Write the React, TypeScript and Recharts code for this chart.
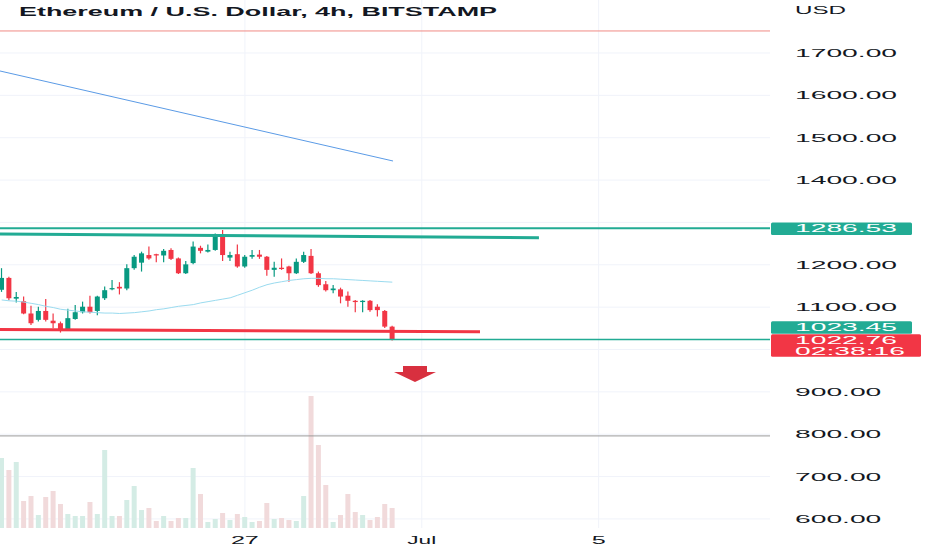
import {
  ComposedChart,
  Bar,
  Line,
  XAxis,
  YAxis,
  CartesianGrid,
  ReferenceLine,
  ReferenceDot,
  Cell,
} from 'recharts';

// 4h candles, oldest first
const opens = [
  1141, 1169, 1120, 1114, 1085, 1070, 1091, 1068, 1062, 1046, 1072, 1088, 1101, 1091, 1121, 1142, 1148, 1144,
  1192, 1205, 1223, 1225, 1222, 1235, 1215, 1180, 1204, 1240, 1231, 1235, 1270, 1217, 1225, 1196, 1219, 1224,
  1219, 1188, 1193, 1196, 1180, 1207, 1221, 1180, 1154, 1140, 1142, 1127, 1115, 1112, 1115, 1101, 1091, 1054,
];
const highs = [
  1192, 1172, 1136, 1125, 1103, 1101, 1119, 1085, 1066, 1096, 1105, 1113, 1127, 1127, 1149, 1164, 1159, 1201,
  1223, 1231, 1243, 1226, 1237, 1239, 1217, 1209, 1255, 1245, 1248, 1274, 1282, 1231, 1248, 1223, 1235, 1235,
  1221, 1207, 1215, 1198, 1215, 1231, 1237, 1184, 1162, 1152, 1146, 1137, 1117, 1116, 1117, 1107, 1093, 1056,
];
const lows = [
  1136, 1116, 1111, 1083, 1058, 1066, 1066, 1050, 1040, 1044, 1070, 1085, 1085, 1081, 1117, 1140, 1130, 1140,
  1188, 1184, 1212, 1206, 1206, 1211, 1178, 1178, 1201, 1227, 1229, 1233, 1209, 1209, 1193, 1193, 1214, 1214,
  1174, 1172, 1188, 1160, 1178, 1204, 1178, 1148, 1137, 1133, 1109, 1101, 1088, 1088, 1089, 1078, 1051, 1021,
];
const closes = [
  1169, 1121, 1124, 1085, 1062, 1091, 1070, 1062, 1046, 1074, 1088, 1101, 1088, 1125, 1140, 1145, 1144, 1192,
  1219, 1227, 1215, 1222, 1233, 1214, 1180, 1201, 1243, 1233, 1235, 1270, 1223, 1223, 1196, 1219, 1223, 1219,
  1188, 1193, 1190, 1180, 1207, 1223, 1180, 1152, 1140, 1144, 1125, 1115, 1112, 1115, 1093, 1093, 1054, 1022.76,
];
// volume, thousands ETH
const volumes = [
  7.0, 5.8, 6.6, 2.7, 3.2, 1.3, 3.1, 3.7, 2.4, 1.4, 1.2, 1.2, 2.6, 1.4, 7.8, 1.2, 1.2, 2.8,
  4.2, 1.8, 2.0, 0.7, 1.2, 0.7, 1.0, 1.0, 6.0, 3.4, 0.6, 0.9, 1.5, 0.8, 1.4, 1.1, 0.6, 0.7,
  2.5, 0.9, 1.0, 0.8, 0.7, 3.2, 13.2, 8.3, 4.3, 0.6, 1.3, 3.4, 1.6, 1.3, 0.8, 1.1, 2.4, 2.0,
];
const maValues = [
  1117, 1115, 1114, 1112, 1109, 1106, 1102, 1099, 1095, 1093, 1091, 1089, 1088, 1087, 1086, 1086, 1085, 1086,
  1087, 1089, 1091, 1094, 1096, 1099, 1102, 1104, 1106, 1110, 1113, 1116, 1119, 1122, 1128, 1134, 1140, 1147,
  1153, 1157, 1160, 1163, 1165, 1167, 1168, 1168, 1167, 1167, 1166, 1165, 1164, 1163, 1162, 1161, 1160, 1159,
];

const timeTicks = [33, 57, 81];
const timeLabels = ['27', 'Jul', '5'];
const priceTicks = [600, 700, 800, 900, 1100, 1200, 1400, 1500, 1600, 1700];
const gridPrices = [600, 700, 800, 900, 1000, 1100, 1200, 1300, 1400, 1500, 1600, 1700];

// drawings
const topLevel = 1752;
const greyLevel = 796;
const resistanceLevel = 1286.53;
const supportLevel = 1023.45;
const lastPrice = 1022.76;
const countdown = '02:38:16';
const blueTrend = [{ x: -0.23, y: 1657.5 }, { x: 53.1, y: 1445 }];
const tealTrend = [{ x: -0.23, y: 1272.7 }, { x: 72.9, y: 1263.9 }];
const redTrend = [{ x: -0.23, y: 1047 }, { x: 64.9, y: 1042 }];
const arrowPoint = { x: 56.08, y: 942 };

const UP = '#089981';
const DOWN = '#f23645';
const TEAL = '#22ab94';
const TEXT = '#131722';
const FONT = '"Liberation Sans", Arial, sans-serif';

const rows = opens.map((open, i) => ({
  i,
  open,
  high: highs[i],
  low: lows[i],
  close: closes[i],
  volume: volumes[i],
  ma: maValues[i],
}));

// the screenshot is stretched sideways, so glyph runs get an explicit length
const charW: Record<string, number> = { '.': 7.85, ':': 7.85, J: 11, u: 13, l: 5, U: 17, S: 17, D: 17 };
function textWidth(s: string, digit = 15.7) {
  return s.split('').reduce((w, c) => w + (charW[c] ?? digit), 0);
}

function CandleShape(props: any) {
  const { x, y, width, height, payload } = props;
  const { open, close, high, low } = payload;
  const color = close >= open ? UP : DOWN;
  const k = height / (high - low);
  const yo = y + (high - open) * k;
  const yc = y + (high - close) * k;
  const cx = x + width / 2;
  return (
    <g>
      <line x1={cx} x2={cx} y1={y} y2={y + height} stroke={color} strokeWidth={1.2} />
      <rect x={x} y={Math.min(yo, yc)} width={width} height={Math.max(1, Math.abs(yo - yc))} fill={color} />
    </g>
  );
}

function PriceTick({ x, y, payload }: any) {
  const s = Number(payload.value).toFixed(2);
  return (
    <text x={x + 17} y={y + 4} fontSize={11} fill={TEXT} fontFamily={FONT} textLength={textWidth(s)} lengthAdjust="spacingAndGlyphs">
      {s}
    </text>
  );
}

function TimeTick({ x, y, payload }: any) {
  const s = timeLabels[timeTicks.indexOf(payload.value)] ?? '';
  return (
    <text x={x} y={y + 8} fontSize={10.5} fill={TEXT} fontFamily={FONT} textAnchor="middle" textLength={textWidth(s, 14)} lengthAdjust="spacingAndGlyphs">
      {s}
    </text>
  );
}

function tag(lines: string[], fill: string, dy: number, w: number) {
  return (props: any) => {
    const vb = props.viewBox;
    const h = lines.length === 1 ? 12.5 : 22.4;
    const left = vb.x + vb.width + 1;
    const top = vb.y + dy - h / 2;
    return (
      <g>
        <rect x={left} y={top} width={w} height={h} rx={1.5} fill={fill} />
        {lines.map((s, k) => (
          <text
            key={k}
            x={left + 24}
            y={top + 10 + k * 10.3}
            fontSize={10.5}
            fill="#fff"
            fontFamily={FONT}
            textLength={textWidth(s)}
            lengthAdjust="spacingAndGlyphs"
          >
            {s}
          </text>
        ))}
      </g>
    );
  };
}

function ArrowDown({ cx, cy }: any) {
  const d = `M${cx - 12},${cy - 8} L${cx + 12},${cy - 8} L${cx + 12},${cy - 2} L${cx + 21},${cy - 2} L${cx},${cy + 8} L${cx - 21},${cy - 2} L${cx - 12},${cy - 2} Z`;
  return <path d={d} fill="#d8303f" />;
}

export default function App() {
  return (
    <div style={{ position: 'absolute', left: 0, top: 0, width: 932, height: 550, background: '#fff' }}>
      <ComposedChart width={932} height={550} data={rows} margin={{ top: 0, right: 0, bottom: 0, left: 0 }}>
        <CartesianGrid stroke="#f0f3fa" horizontalValues={gridPrices} verticalValues={timeTicks} />
        <XAxis
          dataKey="i"
          type="number"
          domain={[-0.23, 104.25]}
          ticks={timeTicks}
          height={22}
          axisLine={false}
          tickLine={false}
          tick={<TimeTick />}
          allowDataOverflow
        />
        <XAxis xAxisId="vol" dataKey="i" type="number" domain={[-0.23, 104.25]} hide allowDataOverflow />
        <YAxis
          orientation="right"
          width={162}
          domain={[578.6, 1825.1]}
          ticks={priceTicks}
          axisLine={false}
          tickLine={false}
          tick={<PriceTick />}
          allowDataOverflow
        />
        <YAxis yAxisId="vol" hide domain={[0, 52.8]} allowDataOverflow />

        <Bar xAxisId="vol" yAxisId="vol" dataKey="volume" barSize={5} isAnimationActive={false}>
          {rows.map((r) => (
            <Cell key={r.i} fill={r.close >= r.open ? '#d4ece5' : '#f1dadb'} />
          ))}
        </Bar>

        <ReferenceLine y={greyLevel} stroke="#9a9a9a" strokeWidth={1} />
        <ReferenceLine y={topLevel} stroke="#f08a84" strokeWidth={1} />
        <ReferenceLine segment={blueTrend} stroke="#5b9be6" strokeWidth={1} ifOverflow="visible" />

        <Line dataKey="ma" stroke="#9adbef" strokeWidth={1} dot={false} activeDot={false} isAnimationActive={false} />
        <Bar dataKey={(d: any) => [d.low, d.high]} barSize={5} shape={CandleShape} isAnimationActive={false} />

        <ReferenceLine segment={tealTrend} stroke={TEAL} strokeWidth={3} ifOverflow="visible" />
        <ReferenceLine segment={redTrend} stroke={DOWN} strokeWidth={3} ifOverflow="visible" />
        <ReferenceLine
          y={resistanceLevel}
          stroke={TEAL}
          strokeWidth={2}
          label={tag([resistanceLevel.toFixed(2)], TEAL, 0.5, 141)}
        />
        <ReferenceLine
          y={supportLevel}
          stroke={TEAL}
          strokeWidth={1.5}
          label={tag([supportLevel.toFixed(2)], TEAL, -12, 141)}
        />
        <ReferenceLine
          y={lastPrice}
          stroke="none"
          label={tag([lastPrice.toFixed(2), countdown], DOWN, 5.6, 150)}
        />
        <ReferenceDot x={arrowPoint.x} y={arrowPoint.y} ifOverflow="visible" shape={ArrowDown} />
      </ComposedChart>

      <svg width={932} height={550} style={{ position: 'absolute', left: 0, top: 0, pointerEvents: 'none' }}>
        <text x={19} y={16} fontSize={12.5} fontWeight={700} fill={TEXT} fontFamily={FONT} textLength={478} lengthAdjust="spacingAndGlyphs">
          Ethereum / U.S. Dollar, 4h, BITSTAMP
        </text>
        <text x={795} y={14} fontSize={11} fill={TEXT} fontFamily={FONT} textLength={textWidth('USD')} lengthAdjust="spacingAndGlyphs">
          USD
        </text>
      </svg>
    </div>
  );
}
